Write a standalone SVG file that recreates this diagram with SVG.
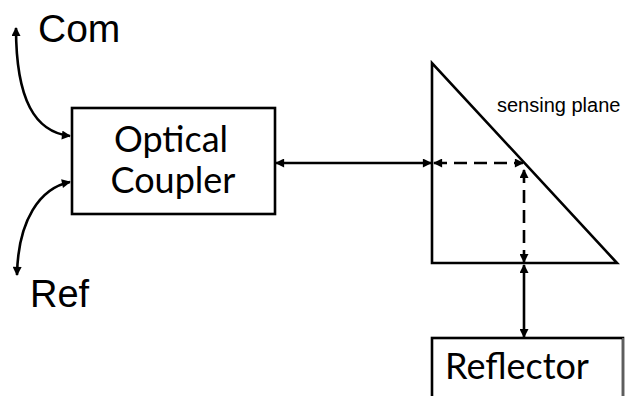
<svg xmlns="http://www.w3.org/2000/svg" width="625" height="396" viewBox="0 0 625 396">
  <defs>
    <marker id="ah" viewBox="0 0 10 10" refX="9" refY="5" markerWidth="10" markerHeight="9" markerUnits="userSpaceOnUse" orient="auto-start-reverse">
      <path d="M0,0 L10,5 L0,10 z" fill="#000"/>
    </marker>
  </defs>
  <style>
    .box { fill: #fff; stroke: #000; stroke-width: 2.6; }
    .line { fill: none; stroke: #000; stroke-width: 2.6; }
    .dash { fill: none; stroke: #000; stroke-width: 2.6; stroke-dasharray: 13 7; }
    .big { font-family: Lato, "Open Sans", sans-serif; font-size: 36px; fill: #000; }
    .lbl { font-family: "Liberation Sans", Arial, sans-serif; fill: #000; }
  </style>
  <rect width="625" height="396" fill="#fff"/>

  <g id="coupler">
    <rect class="box" x="72" y="108" width="203" height="106"/>
    <text class="big" x="171" y="152" text-anchor="middle">Optical</text>
    <text class="big" x="173" y="193" text-anchor="middle">Coupler</text>
  </g>

  <g id="prism">
    <path class="line" d="M432,63 L432,263 L617,263 Z" stroke-linejoin="miter"/>
    <text class="lbl" x="497" y="112" font-size="20">sensing plane</text>
  </g>

  <g id="reflector">
    <rect class="box" x="432" y="338" width="191" height="80"/>
    <line x1="623" y1="338" x2="623" y2="396" stroke="#bbb" stroke-width="1"/>
    <text class="big" x="445" y="379">Reflector</text>
  </g>

  <g id="com">
    <text class="lbl" x="38" y="42" font-size="39">Com</text>
  </g>

  <g id="ref">
    <text class="lbl" x="30" y="307" font-size="38">Ref</text>
  </g>

  <g id="connectors">
    <path class="line" d="M16,28 C16,100 35,132 70,136" marker-start="url(#ah)" marker-end="url(#ah)"/>
    <path class="line" d="M70,182 C40,188 18,220 17,275" marker-start="url(#ah)" marker-end="url(#ah)"/>
    <line class="line" x1="276" y1="163" x2="431" y2="163" marker-start="url(#ah)" marker-end="url(#ah)"/>
    <line class="dash" x1="434" y1="163" x2="523" y2="163" marker-start="url(#ah)" marker-end="url(#ah)"/>
    <line class="dash" x1="524" y1="170" x2="524" y2="262" marker-start="url(#ah)" marker-end="url(#ah)"/>
    <line class="line" x1="524" y1="265" x2="524" y2="337" marker-start="url(#ah)" marker-end="url(#ah)"/>
  </g>
</svg>
